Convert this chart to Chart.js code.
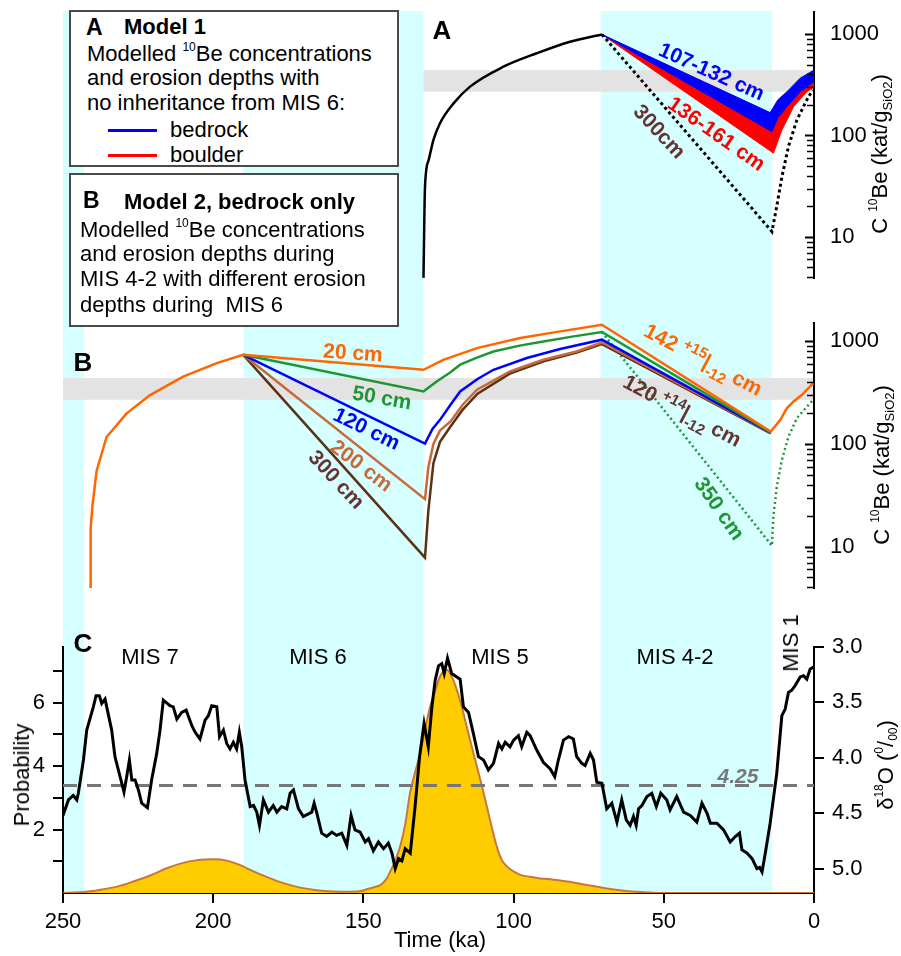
<!DOCTYPE html>
<html>
<head>
<meta charset="utf-8">
<script src="https://cdn.jsdelivr.net/npm/chart.js@4.4.0/dist/chart.umd.min.js"></script>
<style>
  body { margin: 0; background: #fff; }
  #page { position: relative; width: 901px; height: 956px; overflow: hidden;
          font-family: Arial, "Liberation Sans", Helvetica, sans-serif; color: #000; }
  canvas { position: absolute; left: 0; }
  .box { position: absolute; left: 69px; width: 326px; background: #fff; border: 2px solid #4a4a4a; }
  .t { position: absolute; white-space: nowrap; line-height: 1; font-size: 22px; transform: translateY(-50%); }
  .c { position: absolute; white-space: nowrap; line-height: 1; font-size: 22px; }
  .b { font-weight: bold; }
  .sp { font-size: 15px; vertical-align: 8px; }
  .sb { font-size: 15px; vertical-align: -6px; }
  .s10 { font-size: 12px; vertical-align: 10px; }
  .key { position: absolute; left: 108px; width: 49px; height: 3px; }
</style>
</head>
<body>
<div id="page">
  <canvas id="chartA" width="901" height="300" style="top:0"></canvas>
  <canvas id="chartB" width="901" height="315" style="top:300px"></canvas>
  <canvas id="chartC" width="901" height="341" style="top:615px"></canvas>

  <div class="box" style="top:10px;height:153px"></div>
  <div class="box" style="top:173px;height:150px"></div>

  <div class="t b" style="left:86px;top:27px;font-size:23px">A</div>
  <div class="t b" style="left:124px;top:27px">Model 1</div>
  <div class="t" style="left:87px;top:53px">Modelled <span class="s10">10</span>Be concentrations</div>
  <div class="t" style="left:87px;top:78px">and erosion depths with</div>
  <div class="t" style="left:87px;top:103px">no inheritance from MIS 6:</div>
  <div class="key" style="top:129px;background:#0000ff"></div>
  <div class="t" style="left:170px;top:130px">bedrock</div>
  <div class="key" style="top:154px;background:#ff0000"></div>
  <div class="t" style="left:170px;top:155px">boulder</div>

  <div class="t b" style="left:83px;top:200px;font-size:23px">B</div>
  <div class="t b" style="left:124px;top:202px">Model 2, bedrock only</div>
  <div class="t" style="left:80px;top:229px">Modelled <span class="s10">10</span>Be concentrations</div>
  <div class="t" style="left:80px;top:254px">and erosion depths during</div>
  <div class="t" style="left:80px;top:279px">MIS 4-2 with different erosion</div>
  <div class="t" style="left:80px;top:305px">depths during&nbsp; MIS 6</div>
</div>

<script>
// ---- data (time in ka, concentrations in kat/g) ----
const GLACIAL = [[250, 243], [190, 130], [71, 14]];
const GREY_BAND = [270, 440];

// panel A: model 1
const A_BUILD_T = [130, 129.5, 128.3, 126.7, 124.5, 120, 114.5, 103.4, 92.3, 81.2, 70.6];
const A_BUILD_C = [3.95, 31, 57, 90, 132, 207, 303, 476, 646, 840, 990];
const A_BLUE_HI_T = [70.6, 14.6, 12, 9, 4.6, 0];
const A_BLUE_HI_C = [990, 168, 225, 270, 367, 441];
const A_BLUE_LO_T = [70.6, 14.0, 12, 9, 4.6, 0];
const A_BLUE_LO_C = [990, 109, 150, 192, 270, 339];
const A_RED_LO_T = [70.6, 13.5, 10.7, 9, 6.8, 2.4, 0];
const A_RED_LO_C = [990, 67, 113, 142, 192, 270, 302];
const A_300_T = [70.6, 14.0, 12.4, 10.7, 8.5, 5.7, 2.4, 0.5];
const A_300_C = [990, 11.3, 20, 39, 78, 142, 224, 280];

// panel B: model 2
const B20_T = [241, 240.8, 240.2, 238.8, 235.5, 228.8, 221, 210, 198.8, 190, 130, 123.4, 112.2, 97.8, 84.5, 70.6, 14.4, 11.2, 9, 6.8, 4, 0.2];
const B20_C = [3.95, 15, 25, 55, 117, 199, 300, 454, 614, 740, 529, 662, 861, 1080, 1253, 1455, 132, 172, 224, 260, 302, 393];
const B50_T = [190, 130, 127.5, 125.6, 121, 117.8, 112, 106.7, 98, 90.1, 80, 70.6, 14.4];
const B50_C = [740, 325, 370, 407, 500, 593, 700, 798, 910, 1000, 1120, 1236, 130];
const B120_T = [190, 129.5, 127, 124.5, 121, 117.8, 112, 106.7, 95.6, 84.5, 70.6, 14.4];
const B120_C = [740, 101, 140, 172, 241, 325, 430, 529, 689, 843, 1040, 129];
const B200_T = [190, 129.5, 128.4, 126.7, 124.5, 121, 117, 112.2, 101.2, 90.1, 79, 70.6, 14.4];
const B200_C = [740, 29, 59, 100, 135, 166, 240, 338, 509, 662, 798, 977, 128];
const B300_T = [190, 129.5, 128.4, 126.7, 124.5, 121, 117, 112, 101, 90, 79, 70.6, 14.4];
const B300_C = [740, 7.8, 22, 65, 105, 148, 215, 310, 490, 640, 780, 940, 127];
const B350_T = [70.6, 14.0, 13.5, 12.4, 10.7, 8.5, 5.7, 1.3, 0.2];
const B350_C = [1236, 10.2, 20, 38, 70, 118, 179, 251, 270];

// panel C: benthic d18O stack and summed exposure-age probability
const D18O_T = [250, 248.2, 246.6, 245.4, 244.9, 243.2, 242.1, 239.9, 239.0, 237.9, 237.1, 236.0, 233.8, 232.7, 231.0, 229.7, 228.8, 227.9, 227.1, 226.0,
  224.9, 223.8, 221.9, 220.5, 218.8, 217.7, 216.6, 214.4, 213.3, 212.1, 210.5, 209.0, 207.1, 206.0, 204.4, 202.7, 201.6, 200.5, 198.8, 197.9,
  196.6, 195.5, 194.4, 193.3, 192.2, 191.3, 190.5, 189.4, 187.7, 186.6, 185.5, 184.6, 183.3, 181.6, 180.0, 178.8, 177.2, 175.5, 174.4, 173.3,
  171.6, 170.0, 167.2, 166.4, 165.5, 163.9, 162.2, 160.5, 158.9, 157.2, 155.5, 154.1, 152.8, 151.1, 149.4, 148.3, 146.7, 145.0, 143.3, 141.7,
  140.5, 139.4, 138.3, 137.2, 136.1, 134.4, 132.8, 131.3, 129.8, 128.4, 127.2, 126.1, 125.0, 123.9, 123.1, 122.0, 120.6, 118.9, 117.8, 116.7,
  115.0, 113.4, 111.7, 110.0, 108.4, 106.7, 105.0, 103.9, 102.8, 101.2, 100.0, 98.4, 97.3, 95.6, 94.5, 92.3, 90.1, 87.8, 86.3, 85.1,
  83.4, 81.7, 80.1, 79.0, 77.3, 76.2, 74.5, 73.4, 72.3, 70.6, 69.0, 67.3, 65.6, 64.0, 62.5, 61.2, 60.1, 59.2, 58.4, 57.3,
  55.6, 54.0, 52.5, 51.0, 49.0, 47.9, 45.7, 43.4, 41.2, 39.0, 37.3, 35.6, 34.5, 32.3, 30.1, 27.9, 26.2, 24.8, 24.0, 22.3,
  20.6, 19.0, 18.1, 17.3, 16.2, 14.6, 12.4, 10.7, 9.6, 8.5, 7.4, 6.3, 4.6, 3.5, 2.4, 1.3, 0.2];
const D18O_V = [4.52, 4.38, 4.34, 4.38, 4.32, 4.02, 3.75, 3.54, 3.44, 3.44, 3.51, 3.47, 3.75, 3.99, 4.17, 4.31, 4.17, 4.02, 4.20, 4.20,
  4.29, 4.41, 4.45, 4.20, 3.96, 3.75, 3.48, 3.53, 3.54, 3.65, 3.59, 3.57, 3.71, 3.77, 3.83, 3.66, 3.62, 3.53, 3.54, 3.81,
  3.75, 3.87, 3.92, 3.86, 3.92, 3.77, 3.90, 4.20, 4.44, 4.43, 4.49, 4.61, 4.38, 4.49, 4.43, 4.49, 4.44, 4.46, 4.32, 4.29,
  4.46, 4.53, 4.49, 4.41, 4.50, 4.68, 4.71, 4.67, 4.70, 4.68, 4.79, 4.52, 4.65, 4.67, 4.76, 4.73, 4.84, 4.76, 4.82, 4.77,
  4.86, 5.00, 4.91, 4.93, 4.82, 4.86, 4.44, 3.99, 3.69, 3.90, 3.54, 3.30, 3.17, 3.15, 3.24, 3.10, 3.24, 3.27, 3.29, 3.54,
  3.59, 3.78, 3.99, 4.02, 4.11, 4.05, 3.87, 3.92, 3.86, 3.90, 3.84, 3.80, 3.90, 3.77, 3.80, 3.93, 4.04, 4.10, 4.17, 4.02,
  3.84, 3.81, 3.83, 3.99, 4.05, 4.07, 3.96, 4.02, 4.22, 4.23, 4.46, 4.41, 4.58, 4.38, 4.56, 4.61, 4.53, 4.61, 4.46, 4.43,
  4.35, 4.32, 4.44, 4.32, 4.38, 4.47, 4.35, 4.49, 4.52, 4.58, 4.41, 4.50, 4.59, 4.59, 4.65, 4.76, 4.71, 4.68, 4.83, 4.86,
  4.91, 5.00, 4.99, 5.03, 4.86, 4.59, 4.14, 3.62, 3.56, 3.41, 3.39, 3.35, 3.27, 3.26, 3.29, 3.20, 3.18];
const D18O_THRESHOLD = 4.25;

const PROB_T = [250, 245, 240, 237.7, 232, 226.6, 221, 215.5, 210, 205, 200, 195.5, 191, 187.7, 182, 176.6, 171, 165.5, 160, 154.4,
  150, 148.9, 146.5, 144.4, 142.5, 141.1, 139.5, 137.8, 136, 134.5, 132.8, 131.1, 129.5, 127.8, 126, 124.5, 122.2, 120.5, 118.9, 117.2,
  115.6, 113.9, 112.2, 110.5, 108.9, 107.2, 105.6, 104, 102.2, 100, 97.8, 94.5, 91.2, 86.7, 81, 75.6, 70, 64.5, 59, 53.4, 45, 0];
const PROB_V = [0, 0.02, 0.06, 0.1, 0.2, 0.36, 0.55, 0.78, 0.95, 1.04, 1.06, 1.02, 0.88, 0.73, 0.5, 0.31, 0.17, 0.09, 0.05, 0.04,
  0.08, 0.12, 0.18, 0.25, 0.42, 0.67, 1.0, 1.46, 2.2, 3.14, 3.8, 4.4, 5.15, 5.87, 6.4, 6.82, 7.03, 6.8, 6.4, 5.85,
  5.24, 4.6, 3.98, 3.35, 2.72, 2.05, 1.46, 1.05, 0.83, 0.68, 0.57, 0.51, 0.46, 0.42, 0.35, 0.25, 0.16, 0.09, 0.04, 0.01, 0, 0];

// ---- axis ticks ----
const LOG_TICKS = [4, 5, 6, 7, 8, 9, 10, 20, 30, 40, 50, 60, 70, 80, 90, 100, 200, 300, 400, 500, 600, 700, 800, 900, 1000];
const DECADES = [10, 100, 1000];
const PROB_TICKS = [1, 2, 3, 4, 5, 6, 7];
const D18O_TICKS = [3.0, 3.5, 4.0, 4.5, 5.0];

const CYAN = '#d6ffff';
const GREY = '#e3e3e3';
const ORANGE = '#ff6600';
const GREEN = '#1e9632';
const BLUE = '#0000ff';
const RED = '#ff0000';
const LBROWN = '#c8693c';
const DBROWN = '#5a3214';
const LABEL_BROWN = '#663333';

const pts = (t, v) => t.map((x, i) => ({ x, y: v[i] }));

Chart.defaults.font.family = 'Arial, "Liberation Sans", Helvetica, sans-serif';
Chart.defaults.font.size = 22;
Chart.defaults.color = '#000';
Chart.defaults.animation = false;
Chart.defaults.elements.point.radius = 0;
Chart.defaults.plugins.legend.display = false;
Chart.defaults.plugins.tooltip.enabled = false;

// cyan glacial stages + grey measured band, behind everything
const bands = {
    id: 'bands',
    beforeDraw(chart, args, o) {
        const { ctx, chartArea: ca, scales } = chart;
        const x = scales.x;
        const yBot = o.toBottom ? chart.height : ca.bottom;
        ctx.save();
        ctx.fillStyle = CYAN;
        for (const [a, b] of GLACIAL) {
            const x1 = x.getPixelForValue(a), x2 = x.getPixelForValue(b);
            ctx.fillRect(x1, o.top, x2 - x1, yBot - o.top);
        }
        if (o.greyFrom !== undefined) {
            const gx = x.getPixelForValue(o.greyFrom);
            const y1 = scales.y.getPixelForValue(GREY_BAND[1]);
            const y2 = scales.y.getPixelForValue(GREY_BAND[0]);
            ctx.fillStyle = GREY;
            ctx.fillRect(gx, y1, ca.right - gx, y2 - y1);
        }
        ctx.restore();
    },
};

// log axis tick marks pointing into the plot
const inTicks = {
    id: 'inTicks',
    afterDraw(chart) {
        const s = chart.scales.y, ctx = chart.ctx;
        ctx.save();
        ctx.strokeStyle = '#000';
        for (const v of LOG_TICKS) {
            const py = Math.round(s.getPixelForValue(v)) + 0.5;
            const major = DECADES.includes(v);
            ctx.lineWidth = major ? 2 : 1.5;
            ctx.beginPath();
            ctx.moveTo(s.left, py);
            ctx.lineTo(s.left - (major ? 9 : 7), py);
            ctx.stroke();
        }
        ctx.restore();
    },
};

// fixed axis sizes, no label overhang padding, so the three panels line up
const fixV = w => s => { s.width = w; s.paddingTop = 0; s.paddingBottom = 0; };

function logAxis(min, max) {
    return {
        type: 'logarithmic', position: 'right', min, max, bounds: 'data',
        afterFit: fixV(87),
        afterBuildTicks: s => { s.ticks = LOG_TICKS.map(value => ({ value })); },
        ticks: { autoSkip: false, padding: 8, callback: v => DECADES.includes(v) ? String(v) : '' },
        grid: { display: false },
        border: { display: true, color: '#000', width: 2 },
    };
}

const hiddenX = { type: 'linear', min: 0, max: 250, reverse: true, display: false };

const line = (data, color, width, extra = {}) => ({
    data, borderColor: color, backgroundColor: color, borderWidth: width, tension: 0, fill: false, ...extra,
});

const chartA = new Chart(document.getElementById('chartA'), {
    type: 'line',
    data: {
        datasets: [
            line(pts(A_300_T, A_300_C), '#000', 3, { borderDash: [3, 3] }),
            line(pts(A_BLUE_HI_T, A_BLUE_HI_C), BLUE, 1, { fill: '+1' }),
            line(pts(A_BLUE_LO_T, A_BLUE_LO_C), BLUE, 1),
            line(pts(A_BLUE_LO_T, A_BLUE_LO_C), RED, 1, { fill: '+1' }),
            line(pts(A_RED_LO_T, A_RED_LO_C), RED, 1),
            line(pts(A_BUILD_T, A_BUILD_C), '#000', 2.5, { cubicInterpolationMode: 'monotone' }),
        ],
    },
    options: {
        responsive: false,
        layout: { padding: { left: 63, top: 12, bottom: 22, right: 0 }, autoPadding: false },
        scales: { x: hiddenX, y: logAxis(3.94, 1647) },
        plugins: { bands: { top: 11, toBottom: true, greyFrom: 130 } },
    },
    plugins: [bands, inTicks],
});

new Chart(document.getElementById('chartB'), {
    type: 'line',
    data: {
        datasets: [
            line(pts(B20_T, B20_C), ORANGE, 2.5),
            line(pts(B50_T, B50_C), GREEN, 2.5),
            line(pts(B120_T, B120_C), BLUE, 2.5),
            line(pts(B200_T, B200_C), LBROWN, 2.5),
            line(pts(B300_T, B300_C), DBROWN, 2.5),
            line(pts(B350_T, B350_C), GREEN, 2.5, { borderDash: [2, 3] }),
        ],
    },
    options: {
        responsive: false,
        layout: { padding: { left: 63, top: 23, bottom: 27, right: 0 }, autoPadding: false },
        scales: { x: hiddenX, y: logAxis(3.95, 1512) },
        plugins: { bands: { top: 0, toBottom: true, greyFrom: 250 } },
    },
    plugins: [bands, inTicks],
});

new Chart(document.getElementById('chartC'), {
    type: 'line',
    data: {
        datasets: [
            line(pts(D18O_T, D18O_V), '#000', 3, { yAxisID: 'yD' }),
            line([{ x: 250, y: D18O_THRESHOLD }, { x: 0, y: D18O_THRESHOLD }], '#777', 3, { yAxisID: 'yD', borderDash: [14, 10] }),
            line(pts(PROB_T, PROB_V), '#c8773c', 2, {
                yAxisID: 'y', fill: 'origin', backgroundColor: '#ffcc00', cubicInterpolationMode: 'monotone',
            }),
        ],
    },
    options: {
        responsive: false,
        layout: { padding: { left: 0, top: 32, bottom: 0, right: 0 }, autoPadding: false },
        scales: {
            x: {
                type: 'linear', min: 0, max: 250, reverse: true, position: 'bottom',
                afterFit: s => { s.height = 63; s.paddingLeft = 0; s.paddingRight = 0; },
                ticks: { stepSize: 50, padding: 6, maxRotation: 0 },
                grid: { drawOnChartArea: false, tickLength: 10, lineWidth: 2, color: '#000' },
                border: { color: '#000', width: 2 },
            },
            y: {
                type: 'linear', position: 'left', min: 0, max: 7.75,
                afterFit: fixV(63),
                afterBuildTicks: s => { s.ticks = PROB_TICKS.map(value => ({ value })); },
                ticks: { padding: 8, callback: v => (v % 2 === 0 ? String(v) : '') },
                grid: { drawOnChartArea: false, tickLength: 10, lineWidth: 2, color: '#000' },
                border: { color: '#000', width: 2 },
            },
            yD: {
                type: 'linear', position: 'right', min: 3.0, max: 5.22, reverse: true,
                afterFit: fixV(87),
                afterBuildTicks: s => { s.ticks = D18O_TICKS.map(value => ({ value })); },
                ticks: { padding: 8, callback: v => v.toFixed(1) },
                grid: { drawOnChartArea: false, tickLength: 10, lineWidth: 2, color: '#000' },
                border: { color: '#000', width: 2 },
            },
        },
        plugins: { bands: { top: 0, toBottom: false } },
    },
    plugins: [bands],
});

// ---- text placed over the plots ----
const page = document.getElementById('page');
function put(html, x, y, style = {}) {
    const d = document.createElement('div');
    d.className = 'c';
    d.innerHTML = html;
    Object.assign(d.style, { left: x + 'px', top: y + 'px' }, style);
    d.style.transform = `translate(-50%, -50%) rotate(${style.rot || 0}deg)`;
    page.appendChild(d);
}
const bold = (color, size = 21) => ({ color, fontWeight: 'bold', fontSize: size + 'px' });

put('A', 442, 30, bold('#000', 26));
put('B', 83, 362, bold('#000', 26));
put('C', 83, 643, bold('#000', 26));

put('107-132 cm', 712, 71, { ...bold(BLUE), rot: 24 });
put('136-161 cm', 717, 133, { ...bold(RED), rot: 35 });
put('300cm', 660, 131, { ...bold(LABEL_BROWN), rot: 47 });

put('20 cm', 353, 352, { ...bold(ORANGE), rot: 4 });
put('50 cm', 382, 397, { ...bold(GREEN), rot: 10 });
put('120 cm', 367, 428, { ...bold(BLUE), rot: 26 });
put('200 cm', 362, 465, { ...bold(LBROWN), rot: 37 });
put('300 cm', 337, 479, { ...bold(LABEL_BROWN), rot: 47 });
put('142 <span class="sp">+15</span>|<span class="sb">-12</span> cm', 703, 360, { ...bold(ORANGE), rot: 28 });
put('120 <span class="sp">+14</span>|<span class="sb">-12</span> cm', 682, 411, { ...bold(LABEL_BROWN), rot: 28 });
put('350 cm', 720, 508, { ...bold(GREEN), rot: 55 });

put('MIS 7', 150, 657);
put('MIS 6', 318, 657);
put('MIS 5', 500, 657);
put('MIS 4-2', 675, 657);
put('MIS 1', 791, 643, { rot: -90 });
put('4.25', 738, 775, { color: '#777', fontWeight: 'bold', fontStyle: 'italic', fontSize: '21px' });

const cbe = 'C <span class="s10">10</span>Be (kat/g<span style="font-size:13px;vertical-align:-5px">SiO2</span>)';
put(cbe, 880, 154, { rot: -90 });
put(cbe, 882, 465, { rot: -90 });
put('&delta;<span class="s10">18</span>O (<span class="s10">0</span>/<span style="font-size:12px;vertical-align:-4px">00</span>)', 886, 765, { rot: -90 });
put('Probability', 22, 775, { rot: -90 });
put('Time (ka)', 440, 940);
</script>
</body>
</html>
